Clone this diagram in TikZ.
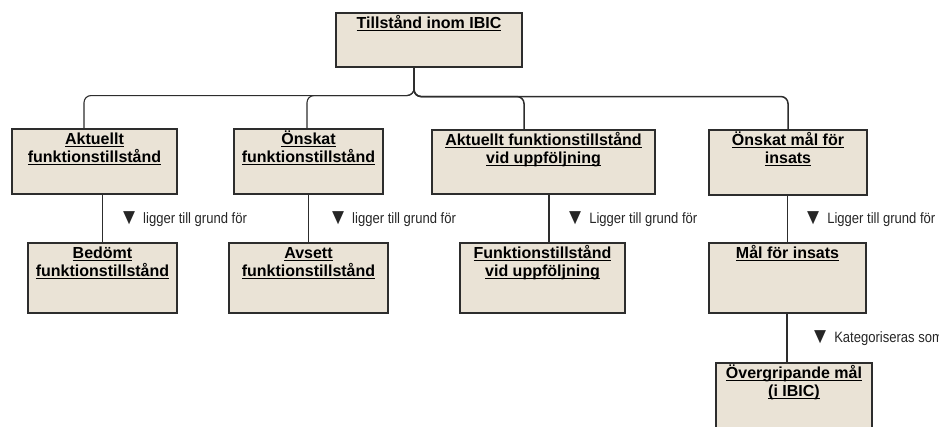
\documentclass[tikz,border=0pt]{standalone}
\usepackage{fontspec}
\usepackage{graphicx}
\setmainfont{Liberation Sans}
\definecolor{boxfill}{RGB}{234,227,214}
\definecolor{edge}{RGB}{45,45,45}
\newcommand\ulin[1]{\leavevmode\setbox0\hbox{#1}\rlap{\rule[-2.3pt]{\wd0}{0.9pt}}\box0}
\newcommand\bxt[3]{\parbox[t][#2][t]{#1}{\centering\fontsize{16}{18}\selectfont\bfseries\rule{0pt}{15.5pt}#3}}
\newcommand\lblt[1]{\raisebox{-1.5pt}{\scalebox{1.35}[1.5]{▼}}\hspace{4pt}\scalebox{0.87}[1]{\fontsize{15}{17}\selectfont #1}}
\tikzset{
  box/.style={draw=edge, fill=boxfill, line width=1.1pt, inner sep=0pt},
  conn/.style={draw=edge, line width=1.1pt},
  lbl/.style={anchor=west, inner sep=0pt, text=black!85, font=\fontsize{15}{17}\selectfont}
}
\begin{document}
\begin{tikzpicture}[x=1pt,y=-1pt]
\useasboundingbox (0,0) rectangle (939,426);
\clip (0,0) rectangle (939,426);
% top
\node[box] (T) at (429,40) {\bxt{186pt}{54pt}{\ulin{Tillstånd inom IBIC}}};
% row 1
\node[box] (A1) at (94.5,161.5) {\bxt{165pt}{65pt}{\ulin{Aktuellt}\\\ulin{funktionstillstånd}}};
\node[box] (A2) at (308.5,161.5) {\bxt{149pt}{65pt}{\ulin{Önskat}\\\ulin{funktionstillstånd}}};
\node[box] (A3) at (543.5,162) {\bxt{223pt}{64pt}{\ulin{Aktuellt funktionstillstånd}\\\ulin{vid uppföljning}}};
\node[box] (A4) at (788,162.5) {\bxt{158pt}{65pt}{\ulin{Önskat mål för}\\\ulin{insats}}};
% row 2
\node[box] (B1) at (102.5,278) {\bxt{149pt}{70pt}{\ulin{Bedömt}\\\ulin{funktionstillstånd}}};
\node[box] (B2) at (308.5,278) {\bxt{159pt}{70pt}{\ulin{Avsett}\\\ulin{funktionstillstånd}}};
\node[box] (B3) at (542.5,278) {\bxt{165pt}{70pt}{\ulin{Funktionstillstånd}\\\ulin{vid uppföljning}}};
\node[box] (B4) at (787.5,278) {\bxt{157pt}{70pt}{\ulin{Mål för insats}}};
% row 3
\node[box] (C4) at (794,401.5) {\bxt{156pt}{77pt}{\ulin{Övergripande mål}\\\ulin{(i IBIC)}}};
% tree
\draw[conn, rounded corners=7pt] ([xshift=-15pt]T.south) -- ++(0,28) -| ([xshift=-10.5pt]A1.north);
\draw[conn, rounded corners=7pt] ([xshift=-15pt]T.south) -- ++(0,28) -| ([xshift=-1.5pt]A2.north);
\draw[conn, line width=1.5pt, rounded corners=7pt] ([xshift=-15pt]T.south) -- ++(0,29) -| ([xshift=-19.5pt]A3.north);
\draw[conn, line width=1.5pt, rounded corners=7pt] ([xshift=-15pt]T.south) -- ++(0,29) -| (A4.north);
% verticals
\draw[conn] (B1.north) -- (B1.north |- A1.south);
\draw[conn] (B2.north) -- (B2.north |- A2.south);
\draw[conn] ([xshift=6.5pt]B3.north) -- ([xshift=6.5pt]B3.north |- A3.south);
\draw[conn] (B4.north) -- (B4.north |- A4.south);
\draw[conn] ([xshift=-7pt]C4.north) -- ([xshift=-7pt]C4.north |- B4.south);
% labels
\node[lbl] (L1) at (119,219) {\lblt{ligger till grund för}};
\node[lbl] (L2) at (328,219) {\lblt{ligger till grund för}};
\node[lbl] (L3) at (565,219) {\lblt{Ligger till grund för}};
\node[lbl] (L4) at (803,219) {\lblt{Ligger till grund för}};
\node[lbl] (L5) at (810,338) {\lblt{Kategoriseras som}};
\end{tikzpicture}
\end{document}
